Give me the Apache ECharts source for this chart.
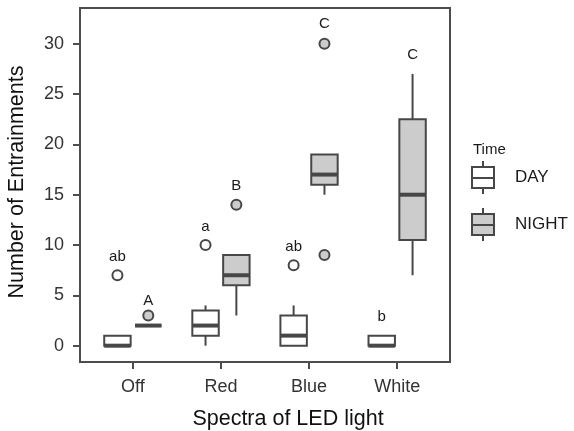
<!DOCTYPE html>
<html>
<head>
<meta charset="utf-8">
<script src="https://cdn.jsdelivr.net/npm/echarts@6/dist/echarts.min.js"></script>
<style>
html, body { margin: 0; padding: 0; background: #fff; }
#container { width: 574px; height: 431px; }
</style>
</head>
<body>
<div id="container"></div>
<script>
let categories = ['Off', 'Red', 'Blue', 'White'];
// [min, Q1, median, Q3, max]
let dayStats = [[0, 0, 0, 1, 1], [0, 1, 2, 3.5, 4], [0, 0, 1, 3, 4], [0, 0, 0, 1, 1]];
let nightStats = [[2, 2, 2, 2, 2], [3, 6, 7, 9, 9], [15, 16, 17, 19, 19], [7, 10.5, 15, 22.5, 27]];
// [category index, value]
let dayOutliers = [[0, 7], [1, 10], [2, 8]];
let nightOutliers = [[0, 3], [1, 14], [2, 30], [2, 9]];
let dayLetters = ['ab', 'a', 'ab', 'b'];
let nightLetters = ['A', 'B', 'C', 'C'];
let dayLetterY = [8.8, 11.8, 9.8, 2.9];
let nightLetterY = [4.5, 15.9, 32, 28.9];
let yTicks = [0, 5, 10, 15, 20, 25, 30];
let xTicks = [1, 2, 3, 4];

let stroke = '#474747';
let axisColor = '#4d4d4d';
let dayFill = '#ffffff';
let nightFill = '#cccccc';
let dodge = 0.175;
let boxWidth = 0.3;
let font = '"Liberation Sans", Arial, sans-serif';

let chart = echarts.init(document.getElementById('container'));

function renderBox(fill) {
    return function (params, api) {
        let x = api.value(0);
        let half = api.size([boxWidth, 0])[0] / 2;
        let lo = api.coord([x, api.value(1)]);
        let q1 = api.coord([x, api.value(2)]);
        let med = api.coord([x, api.value(3)]);
        let q3 = api.coord([x, api.value(4)]);
        let hi = api.coord([x, api.value(5)]);
        let line = { stroke: stroke, lineWidth: 2 };
        return {
            type: 'group',
            children: [
                { type: 'line', shape: { x1: hi[0], y1: hi[1], x2: q3[0], y2: q3[1] }, style: line },
                { type: 'line', shape: { x1: lo[0], y1: lo[1], x2: q1[0], y2: q1[1] }, style: line },
                { type: 'rect', shape: { x: med[0] - half, y: q3[1], width: half * 2, height: q1[1] - q3[1] },
                  style: { fill: fill, stroke: stroke, lineWidth: 2 } },
                { type: 'line', shape: { x1: med[0] - half, y1: med[1], x2: med[0] + half, y2: med[1] },
                  style: { stroke: stroke, lineWidth: 4 } }
            ]
        };
    };
}

let dayData = dayStats.map((s, i) => [i + 1 - dodge].concat(s));
let nightData = nightStats.map((s, i) => [i + 1 + dodge].concat(s));

let letters = [];
dayLetters.forEach((t, i) => letters.push({ value: [i + 1 - dodge, dayLetterY[i]], text: t }));
nightLetters.forEach((t, i) => letters.push({ value: [i + 1 + dodge, nightLetterY[i]], text: t }));

let boxIcon = 'path://M11,0L11,6M0,6L22,6L22,27L0,27ZM0,17L22,17M11,27L11,33';

let option = {
    animation: false,
    textStyle: { fontFamily: font },
    title: {
        text: 'Time',
        left: 468,
        top: 137,
        textStyle: { fontSize: 15, fontWeight: 'normal', color: '#1a1a1a', fontFamily: font }
    },
    legend: {
        orient: 'vertical',
        left: 466,
        top: 155,
        itemWidth: 22,
        itemHeight: 33,
        itemGap: 12,
        selectedMode: false,
        textStyle: { fontSize: 17, color: '#1a1a1a', padding: [0, 0, 0, 16] },
        data: [
            { name: 'DAY', icon: boxIcon, itemStyle: { color: dayFill, borderColor: stroke, borderWidth: 2 } },
            { name: 'NIGHT', icon: boxIcon, itemStyle: { color: nightFill, borderColor: stroke, borderWidth: 2 } }
        ]
    },
    grid: {
        left: 80,
        top: 8,
        width: 370,
        height: 354,
        outerBoundsMode: 'none',
        containLabel: false,
        show: true,
        borderColor: axisColor,
        borderWidth: 2,
        backgroundColor: 'transparent'
    },
    xAxis: {
        type: 'value',
        min: 0.4,
        max: 4.6,
        name: 'Spectra of LED light',
        nameLocation: 'middle',
        nameGap: 46,
        nameTextStyle: { fontSize: 21.5, color: '#111', padding: [0, 0, 0, 46] },
        axisLine: { show: true, onZero: false, lineStyle: { color: axisColor, width: 2 } },
        splitLine: { show: false },
        axisTick: { show: true, customValues: xTicks, length: 7, lineStyle: { color: axisColor, width: 2 } },
        axisLabel: {
            customValues: xTicks,
            fontSize: 18,
            color: '#333',
            margin: 16,
            formatter: v => categories[v - 1]
        }
    },
    yAxis: {
        type: 'value',
        min: -1.62,
        max: 33.55,
        name: 'Number of Entrainments',
        nameLocation: 'middle',
        nameGap: 52,
        nameTextStyle: { fontSize: 21.5, color: '#111', padding: [0, 0, 0, 6] },
        axisLine: { show: true, onZero: false, lineStyle: { color: axisColor, width: 2 } },
        splitLine: { show: false },
        axisTick: { show: true, customValues: yTicks, length: 7, lineStyle: { color: axisColor, width: 2 } },
        axisLabel: { customValues: yTicks, fontSize: 18, color: '#333', margin: 16 }
    },
    series: [
        {
            name: 'DAY',
            type: 'custom',
            renderItem: renderBox(dayFill),
            encode: { x: 0, y: [1, 2, 3, 4, 5] },
            itemStyle: { color: dayFill, borderColor: stroke },
            data: dayData,
            z: 2
        },
        {
            name: 'NIGHT',
            type: 'custom',
            renderItem: renderBox(nightFill),
            encode: { x: 0, y: [1, 2, 3, 4, 5] },
            itemStyle: { color: nightFill, borderColor: stroke },
            data: nightData,
            z: 2
        },
        {
            name: 'DAY outliers',
            type: 'scatter',
            symbolSize: 10,
            itemStyle: { color: dayFill, borderColor: stroke, borderWidth: 2, opacity: 1 },
            emphasis: { disabled: true },
            data: dayOutliers.map(o => [o[0] + 1 - dodge, o[1]]),
            z: 3
        },
        {
            name: 'NIGHT outliers',
            type: 'scatter',
            symbolSize: 10,
            itemStyle: { color: nightFill, borderColor: stroke, borderWidth: 2, opacity: 1 },
            emphasis: { disabled: true },
            data: nightOutliers.map(o => [o[0] + 1 + dodge, o[1]]),
            z: 3
        },
        {
            name: 'letters',
            type: 'custom',
            renderItem: function (params, api) {
                let p = api.coord([api.value(0), api.value(1)]);
                return {
                    type: 'text',
                    x: p[0],
                    y: p[1],
                    style: {
                        text: letters[params.dataIndex].text,
                        fill: '#1a1a1a',
                        font: '15px ' + font,
                        align: 'center',
                        verticalAlign: 'middle'
                    }
                };
            },
            encode: { x: 0, y: 1 },
            data: letters.map(l => l.value),
            z: 4
        }
    ]
};

chart.setOption(option);
</script>
</body>
</html>
